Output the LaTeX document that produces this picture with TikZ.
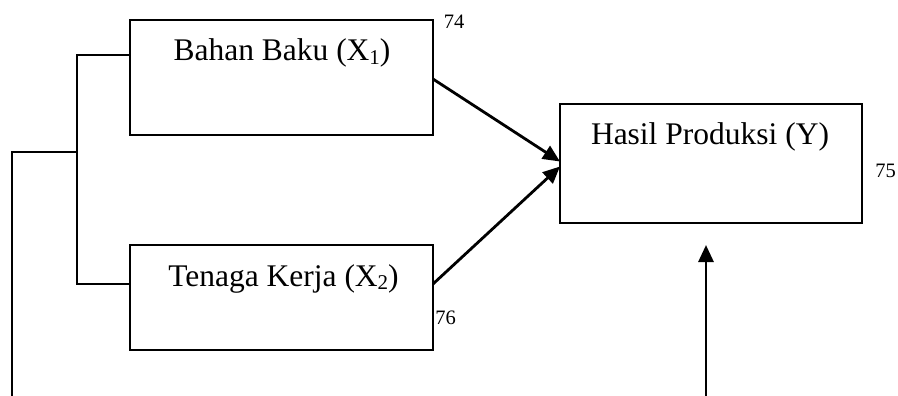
\documentclass[tikz,border=0pt]{standalone}
\usepackage{fontspec}
\setmainfont{Liberation Serif}
\usetikzlibrary{arrows.meta}
\tikzset{
  box/.style={draw, line width=2.2pt, minimum width=303pt, minimum height=115pt, inner sep=0pt, outer sep=0pt},
  title/.style={anchor=base, inner sep=0pt, font=\fontsize{31.5}{34}\selectfont},
  num/.style={anchor=base, inner sep=0pt, font=\fontsize{20.5}{22}\selectfont},
  conn/.style={line width=2.2pt},
  arr/.style={line width=2.8pt, -{Triangle[length=17pt,width=15pt]}}
}
\newcommand{\subx}[1]{\raisebox{-0.12em}{\fontsize{21}{22}\selectfont #1}}
\begin{document}
\begin{tikzpicture}[x=1pt,y=-1pt]
\useasboundingbox (0,0) rectangle (898,396);
\node[box, minimum height=115pt] (b1) at (281.5,77.5) {};
\node[box, minimum height=105pt] (b2) at (281.5,297.5) {};
\node[box, minimum width=302pt, minimum height=119pt] (y) at (711,163.5) {};
\node[title] (t1) at (282,61) {Bahan Baku (X\subx{1})};
\node[title] (t2) at (283.5,286) {Tenaga Kerja (X\subx{2})};
\node[title] (t3) at (710,145) {Hasil Produksi (Y)};
\node[num] (n74) at (454,29) {74};
\node[num] (n75) at (885.5,177) {75};
\node[num] (n76) at (445.5,324) {76};
\coordinate (lj) at (77,152);
\coordinate (lb) at (12,397);
\coordinate (vb) at (706,397);
\coordinate (vt) at (706,245);
\draw[conn] ([yshift=22.5pt]b1.west) -| (lj) |- ([yshift=13.5pt]b2.west);
\draw[conn] (lb) |- (lj);
\draw[arr] ([yshift=-1.5pt]b1.east) -- ([yshift=2pt]y.west);
\draw[arr] ([yshift=13.5pt]b2.east) -- ([yshift=-3pt]y.west);
\draw[arr] (vb) -- (vt);
\end{tikzpicture}
\end{document}
